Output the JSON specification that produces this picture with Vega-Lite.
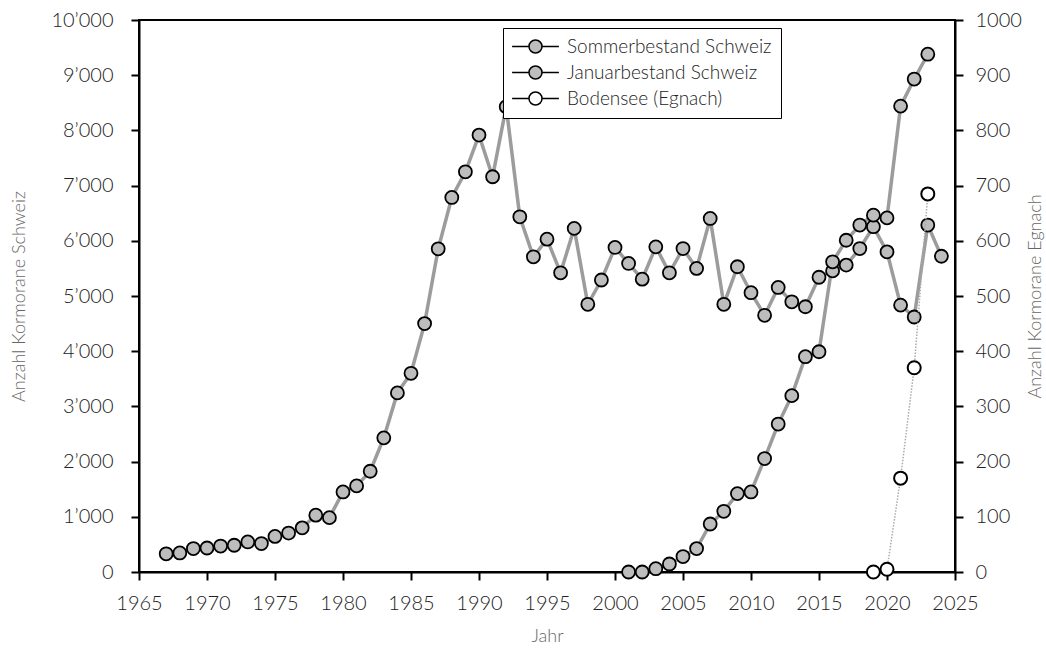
{
  "$schema": "https://vega.github.io/schema/vega-lite/v6.json",
  "width": 816,
  "height": 552,
  "autosize": {"type": "none"},
  "padding": {"left": 139, "top": 20, "right": 91, "bottom": 81},
  "background": "white",
  "config": {
    "font": "Lato",
    "view": {"stroke": "black", "strokeWidth": 2},
    "axis": {
      "grid": false,
      "domainColor": "black",
      "domainWidth": 2,
      "tickColor": "black",
      "tickWidth": 2,
      "tickSize": 8,
      "labelFont": "Lato",
      "labelFontSize": 20,
      "labelFontWeight": 300,
      "labelColor": "#222222",
      "labelOverlap": false,
      "labelFlush": false,
      "titleFont": "Lato",
      "titleFontSize": 18,
      "titleFontWeight": 300,
      "titleColor": "#666666"
    }
  },
  "data": {
    "values": [
      {"year": 1967, "series": "Januarbestand Schweiz", "value": 330},
      {"year": 1968, "series": "Januarbestand Schweiz", "value": 345},
      {"year": 1969, "series": "Januarbestand Schweiz", "value": 425},
      {"year": 1970, "series": "Januarbestand Schweiz", "value": 435},
      {"year": 1971, "series": "Januarbestand Schweiz", "value": 470},
      {"year": 1972, "series": "Januarbestand Schweiz", "value": 485},
      {"year": 1973, "series": "Januarbestand Schweiz", "value": 545},
      {"year": 1974, "series": "Januarbestand Schweiz", "value": 515},
      {"year": 1975, "series": "Januarbestand Schweiz", "value": 645},
      {"year": 1976, "series": "Januarbestand Schweiz", "value": 705},
      {"year": 1977, "series": "Januarbestand Schweiz", "value": 800},
      {"year": 1978, "series": "Januarbestand Schweiz", "value": 1030},
      {"year": 1979, "series": "Januarbestand Schweiz", "value": 985},
      {"year": 1980, "series": "Januarbestand Schweiz", "value": 1450},
      {"year": 1981, "series": "Januarbestand Schweiz", "value": 1560},
      {"year": 1982, "series": "Januarbestand Schweiz", "value": 1825},
      {"year": 1983, "series": "Januarbestand Schweiz", "value": 2430},
      {"year": 1984, "series": "Januarbestand Schweiz", "value": 3245},
      {"year": 1985, "series": "Januarbestand Schweiz", "value": 3600},
      {"year": 1986, "series": "Januarbestand Schweiz", "value": 4500},
      {"year": 1987, "series": "Januarbestand Schweiz", "value": 5855},
      {"year": 1988, "series": "Januarbestand Schweiz", "value": 6785},
      {"year": 1989, "series": "Januarbestand Schweiz", "value": 7250},
      {"year": 1990, "series": "Januarbestand Schweiz", "value": 7915},
      {"year": 1991, "series": "Januarbestand Schweiz", "value": 7160},
      {"year": 1992, "series": "Januarbestand Schweiz", "value": 8430},
      {"year": 1993, "series": "Januarbestand Schweiz", "value": 6435},
      {"year": 1994, "series": "Januarbestand Schweiz", "value": 5710},
      {"year": 1995, "series": "Januarbestand Schweiz", "value": 6030},
      {"year": 1996, "series": "Januarbestand Schweiz", "value": 5420},
      {"year": 1997, "series": "Januarbestand Schweiz", "value": 6225},
      {"year": 1998, "series": "Januarbestand Schweiz", "value": 4850},
      {"year": 1999, "series": "Januarbestand Schweiz", "value": 5290},
      {"year": 2000, "series": "Januarbestand Schweiz", "value": 5880},
      {"year": 2001, "series": "Januarbestand Schweiz", "value": 5590},
      {"year": 2002, "series": "Januarbestand Schweiz", "value": 5305},
      {"year": 2003, "series": "Januarbestand Schweiz", "value": 5890},
      {"year": 2004, "series": "Januarbestand Schweiz", "value": 5420},
      {"year": 2005, "series": "Januarbestand Schweiz", "value": 5860},
      {"year": 2006, "series": "Januarbestand Schweiz", "value": 5500},
      {"year": 2007, "series": "Januarbestand Schweiz", "value": 6405},
      {"year": 2008, "series": "Januarbestand Schweiz", "value": 4850},
      {"year": 2009, "series": "Januarbestand Schweiz", "value": 5530},
      {"year": 2010, "series": "Januarbestand Schweiz", "value": 5060},
      {"year": 2011, "series": "Januarbestand Schweiz", "value": 4650},
      {"year": 2012, "series": "Januarbestand Schweiz", "value": 5155},
      {"year": 2013, "series": "Januarbestand Schweiz", "value": 4895},
      {"year": 2014, "series": "Januarbestand Schweiz", "value": 4805},
      {"year": 2015, "series": "Januarbestand Schweiz", "value": 5340},
      {"year": 2016, "series": "Januarbestand Schweiz", "value": 5455},
      {"year": 2017, "series": "Januarbestand Schweiz", "value": 5560},
      {"year": 2018, "series": "Januarbestand Schweiz", "value": 5860},
      {"year": 2019, "series": "Januarbestand Schweiz", "value": 6255},
      {"year": 2020, "series": "Januarbestand Schweiz", "value": 5800},
      {"year": 2021, "series": "Januarbestand Schweiz", "value": 4835},
      {"year": 2022, "series": "Januarbestand Schweiz", "value": 4620},
      {"year": 2023, "series": "Januarbestand Schweiz", "value": 6285},
      {"year": 2024, "series": "Januarbestand Schweiz", "value": 5720},
      {"year": 2001, "series": "Sommerbestand Schweiz", "value": 0},
      {"year": 2002, "series": "Sommerbestand Schweiz", "value": 0},
      {"year": 2003, "series": "Sommerbestand Schweiz", "value": 60},
      {"year": 2004, "series": "Sommerbestand Schweiz", "value": 145},
      {"year": 2005, "series": "Sommerbestand Schweiz", "value": 280},
      {"year": 2006, "series": "Sommerbestand Schweiz", "value": 424},
      {"year": 2007, "series": "Sommerbestand Schweiz", "value": 870},
      {"year": 2008, "series": "Sommerbestand Schweiz", "value": 1100},
      {"year": 2009, "series": "Sommerbestand Schweiz", "value": 1420},
      {"year": 2010, "series": "Sommerbestand Schweiz", "value": 1450},
      {"year": 2011, "series": "Sommerbestand Schweiz", "value": 2055},
      {"year": 2012, "series": "Sommerbestand Schweiz", "value": 2680},
      {"year": 2013, "series": "Sommerbestand Schweiz", "value": 3195},
      {"year": 2014, "series": "Sommerbestand Schweiz", "value": 3900},
      {"year": 2015, "series": "Sommerbestand Schweiz", "value": 3990},
      {"year": 2016, "series": "Sommerbestand Schweiz", "value": 5620},
      {"year": 2017, "series": "Sommerbestand Schweiz", "value": 6010},
      {"year": 2018, "series": "Sommerbestand Schweiz", "value": 6285},
      {"year": 2019, "series": "Sommerbestand Schweiz", "value": 6465},
      {"year": 2020, "series": "Sommerbestand Schweiz", "value": 6415},
      {"year": 2021, "series": "Sommerbestand Schweiz", "value": 8440},
      {"year": 2022, "series": "Sommerbestand Schweiz", "value": 8930},
      {"year": 2023, "series": "Sommerbestand Schweiz", "value": 9380},
      {"year": 2019, "series": "Bodensee (Egnach)", "value": 0},
      {"year": 2020, "series": "Bodensee (Egnach)", "value": 5},
      {"year": 2021, "series": "Bodensee (Egnach)", "value": 170},
      {"year": 2022, "series": "Bodensee (Egnach)", "value": 370},
      {"year": 2023, "series": "Bodensee (Egnach)", "value": 685}
    ]
  },
  "encoding": {
    "x": {
      "field": "year",
      "type": "quantitative",
      "scale": {"domain": [1965, 2025], "nice": false, "zero": false},
      "axis": {
        "title": "Jahr",
        "values": [1965, 1970, 1975, 1980, 1985, 1990, 1995, 2000, 2005, 2010, 2015, 2020, 2025],
        "format": "d",
        "labelPadding": 13,
        "titlePadding": 14
      }
    }
  },
  "layer": [
    {
      "transform": [{"filter": "datum.series != 'Bodensee (Egnach)'"}],
      "encoding": {
        "y": {
          "field": "value",
          "type": "quantitative",
          "scale": {"domain": [0, 10000], "nice": false},
          "axis": {
            "orient": "left",
            "title": "Anzahl Kormorane Schweiz",
            "values": [0, 1000, 2000, 3000, 4000, 5000, 6000, 7000, 8000, 9000, 10000],
            "labelExpr": "replace(format(datum.value, ','), ',', '’')",
            "labelPadding": 18,
            "titlePadding": 22
          }
        }
      },
      "layer": [
        {
          "mark": {"type": "line", "color": "#9c9c9c", "strokeWidth": 3.5},
          "encoding": {"detail": {"field": "series", "type": "nominal"}}
        },
        {
          "mark": {"type": "circle", "size": 169, "stroke": "black", "strokeWidth": 1.8, "opacity": 1},
          "encoding": {
            "fill": {
              "field": "series",
              "type": "nominal",
              "scale": {
                "domain": ["Sommerbestand Schweiz", "Januarbestand Schweiz", "Bodensee (Egnach)"],
                "range": ["#bdbdbd", "#bdbdbd", "#ffffff"]
              },
              "legend": {
                "title": null,
                "orient": "none",
                "legendX": 364,
                "legendY": 8,
                "fillColor": "white",
                "strokeColor": "black",
                "padding": 9,
                "symbolType": "M-3.6,0 L-1,0 M1,0 L3.6,0 M-1,0 A1,1 0 1,1 1,0 A1,1 0 1,1 -1,0 Z",
                "symbolSize": 169,
                "symbolStrokeColor": "black",
                "symbolStrokeWidth": 1.5,
                "symbolOffset": 14,
                "labelOffset": 22,
                "labelFont": "Lato",
                "labelFontSize": 19,
                "labelFontWeight": 300,
                "labelColor": "#222222",
                "rowPadding": 6,
                "labelLimit": 400,
                "encode": {"legend": {"update": {"strokeWidth": {"value": 1.5}}}}
              }
            }
          }
        }
      ]
    },
    {
      "transform": [{"filter": "datum.series == 'Bodensee (Egnach)'"}],
      "encoding": {
        "y": {
          "field": "value",
          "type": "quantitative",
          "scale": {"domain": [0, 1000], "nice": false},
          "axis": {
            "orient": "right",
            "title": "Anzahl Kormorane Egnach",
            "titleAngle": -90,
            "values": [0, 100, 200, 300, 400, 500, 600, 700, 800, 900, 1000],
            "format": "d",
            "labelPadding": 12,
            "titlePadding": 23
          }
        }
      },
      "layer": [
        {
          "mark": {"type": "line", "color": "#aaaaaa", "strokeWidth": 1.5, "strokeDash": [1.5, 1.5]},
          "encoding": {}
        },
        {
          "mark": {"type": "circle", "size": 169, "stroke": "black", "strokeWidth": 2, "opacity": 1},
          "encoding": {
            "fill": {"field": "series", "type": "nominal"}
          }
        }
      ]
    }
  ],
  "resolve": {"scale": {"y": "independent"}}
}
